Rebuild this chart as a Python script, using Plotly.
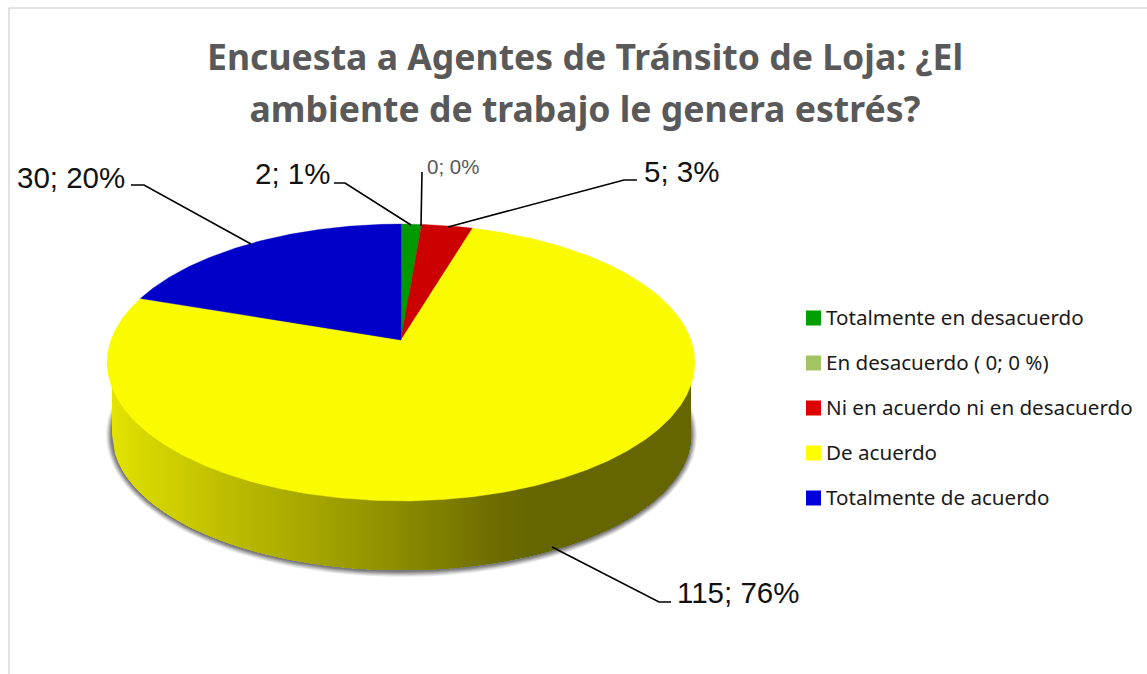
import numpy as np
import plotly.graph_objects as go

# ---- data ----
categories = ["Totalmente en desacuerdo", "En desacuerdo ( 0; 0 %)",
              "Ni en acuerdo ni en desacuerdo", "De acuerdo", "Totalmente de acuerdo"]
values = [2, 0, 5, 115, 30]
slice_colors = ["#009A00", "#A3C463", "#CC0000", "#FAFA00", "#0000C8"]
legend_colors = ["#00A000", "#A3C463", "#DD0000", "#FFFF00", "#0000DD"]
title_lines = ["Encuesta a Agentes de Tránsito de Loja: ¿El",
               "ambiente de trabajo le genera estrés?"]

# ---- page geometry (pixels) and style ----
W, H = 1147, 674
CX, APEX_Y = 401.0, 340.0          # pie apex
A, B, K = 290.0, 134.8, 0.1625     # perspective projection of the disc
BOT_CX, BOT_CY, BOT_RX, BOT_RY = 401.5, 434.0, 289.5, 136.0  # lower rim
side_stop_x = [112, 127, 221, 382, 490, 528, 691]
side_stop_v = [228, 220, 190, 145, 110, 102, 102]
LABEL_FONT = "Liberation Sans"
UI_FONT = "Noto Sans"

# label anchor (left x, middle y), one per category
label_x = [254, 426, 643, 676, 16]
label_y = [173, 166, 171, 592, 177]
label_size = [29.5, 20.5, 29.5, 29.5, 29.5]
label_color = ["#111111", "#595959", "#111111", "#111111", "#111111"]
# leader polylines, one per category
leader_x = [[334, 345, 411], [422, 421], [448, 624, 637], [552, 659, 671], [131, 144, 251]]
leader_y = [[183, 183, 225], [172, 226], [227, 180, 180], [547, 602, 602], [185, 185, 244]]
legend_swatch_x = 813.5
legend_text_x = 825
legend_y = [318, 363, 408, 453, 498]
legend_text_dy = -1


def project(theta):
    u, v = np.sin(theta), np.cos(theta)
    w = 1 + K * v
    return CX + A * u / w, APEX_Y - B * v / w


fig = go.Figure()

# soft shadow below the rim
for grow, alpha in zip([6, 5, 4, 3, 2, 1], [.08, .10, .13, .16, .18, .20]):
    t = np.linspace(0, 2 * np.pi, 361)
    fig.add_trace(go.Scatter(
        x=BOT_CX + (BOT_RX + grow) * np.cos(t),
        y=BOT_CY + 1 + (BOT_RY + grow) * np.sin(t),
        mode="lines", fill="toself", line=dict(width=0),
        fillcolor=f"rgba(40,40,40,{alpha})", hoverinfo="skip", showlegend=False))

# side wall with horizontal gradient, painted left to right
yellow_rgb = (1.0, 1.0, 0.0)
for x0 in np.arange(BOT_CX - BOT_RX, BOT_CX + BOT_RX, 3.0):
    xs = np.linspace(x0, BOT_CX + BOT_RX, 200)
    arc = BOT_CY + BOT_RY * np.sqrt(np.clip(1 - ((xs - BOT_CX) / BOT_RX) ** 2, 0, 1))
    v = float(np.interp(x0, side_stop_x, side_stop_v))
    col = f"rgb({v * yellow_rgb[0]:.0f},{v * yellow_rgb[1]:.0f},0)"
    fig.add_trace(go.Scatter(
        x=np.r_[xs, xs[-1], x0], y=np.r_[arc, APEX_Y, APEX_Y],
        mode="lines", fill="toself", line=dict(width=0),
        fillcolor=col, hoverinfo="skip", showlegend=False))

# top face: one wedge per category
total = sum(values)
edges = np.cumsum([0] + values) / total * 2 * np.pi
for i, name in enumerate(categories):
    n = max(2, int((edges[i + 1] - edges[i]) * 120))
    px, py = project(np.linspace(edges[i], edges[i + 1], n))
    fig.add_trace(go.Scatter(
        x=np.r_[CX, px, CX], y=np.r_[APEX_Y, py, APEX_Y],
        mode="lines", fill="toself", name=name,
        line=dict(width=0.4 if values[i] else 0, color=slice_colors[i]),
        fillcolor=slice_colors[i], showlegend=False,
        hovertemplate=f"{name}: {values[i]}<extra></extra>"))

# leader lines
for lx, ly in zip(leader_x, leader_y):
    fig.add_trace(go.Scatter(x=lx, y=ly, mode="lines", line=dict(color="#000000", width=1.6),
                             hoverinfo="skip", showlegend=False))

# legend swatches
fig.add_trace(go.Scatter(
    x=[legend_swatch_x] * len(categories), y=legend_y, mode="markers",
    marker=dict(symbol="square", size=15, color=legend_colors, line=dict(width=0)),
    hoverinfo="skip", showlegend=False))

annotations = []
for i, v in enumerate(values):
    annotations.append(dict(
        x=label_x[i], y=label_y[i], xref="x", yref="y", xanchor="left", yanchor="middle",
        text=f"{v}; {v / total * 100:.0f}%", showarrow=False, borderpad=0,
        font=dict(family=LABEL_FONT, size=label_size[i], color=label_color[i])))
    annotations.append(dict(
        x=legend_text_x, y=legend_y[i] + legend_text_dy, xref="x", yref="y",
        xanchor="left", yanchor="middle",
        text=categories[i], showarrow=False, borderpad=0,
        font=dict(family=UI_FONT, size=20.6, color="#1A1A1A")))

title_html = "<br>".join(f'<span style="font-size:35.6px">{t}</span>' for t in title_lines)

fig.update_layout(
    width=W, height=H, margin=dict(l=0, r=0, t=0, b=0),
    paper_bgcolor="white", plot_bgcolor="white", showlegend=False,
    title=dict(text=title_html, x=585 / W, xanchor="center", y=1 - 70 / H, yanchor="top",
               font=dict(family=UI_FONT, size=40, color="#595959", weight="bold")),
    xaxis=dict(range=[0, W], visible=False, fixedrange=True),
    yaxis=dict(range=[H, 0], visible=False, fixedrange=True),
    annotations=annotations,
    shapes=[dict(type="line", x0=9, x1=9, y0=8, y1=H, xref="x", yref="y",
                 line=dict(color="#D9D9D9", width=1.5)),
            dict(type="line", x0=9, x1=W, y0=8, y1=8, xref="x", yref="y",
                 line=dict(color="#D9D9D9", width=1.5))],
)

fig.write_html("out.html", config=dict(displayModeBar=False),
               post_script="document.body.style.margin='0';document.documentElement.style.overflow='hidden';")
